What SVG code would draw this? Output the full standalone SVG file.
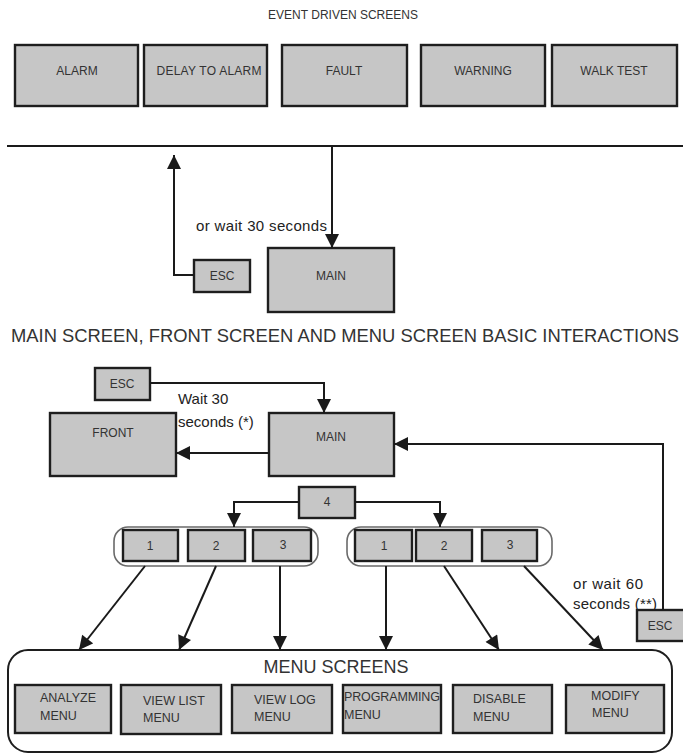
<svg xmlns="http://www.w3.org/2000/svg" width="683" height="754" viewBox="0 0 683 754">
  <defs>
    <marker id="arrow" viewBox="0 0 10 10" refX="10" refY="5" markerWidth="7.5" markerHeight="7" markerUnits="strokeWidth" orient="auto">
      <path d="M0,0 L10,5 L0,10 Z" fill="#1a1a1a"/>
    </marker>
    <style>
      .box { fill: #c6c6c6; stroke: #1e1e1e; stroke-width: 2.4; }
      .grp { fill: none; stroke: #6a6a6a; stroke-width: 1.6; }
      .frame { fill: none; stroke: #1e1e1e; stroke-width: 2; }
      .lbl { font-family: "Liberation Sans", Arial, sans-serif; fill: #333; font-size: 12px; text-anchor: middle; }
      .lbl2 { font-family: "Liberation Sans", Arial, sans-serif; fill: #333; font-size: 12.5px; }
      .note { font-family: "Liberation Sans", Arial, sans-serif; fill: #222; font-size: 15px; }
      .title { font-family: "Liberation Sans", Arial, sans-serif; fill: #333; font-size: 18px; text-anchor: middle; }
      .wire { fill: none; stroke: #1a1a1a; stroke-width: 2; }
    </style>
  </defs>

  <!-- Event driven screens -->
  <text class="lbl" x="343" y="19" font-size="11.5">EVENT DRIVEN SCREENS</text>
  <g id="alarm"><rect class="box" x="15" y="45" width="123" height="61"/><text class="lbl" x="77" y="75">ALARM</text></g>
  <g id="delay"><rect class="box" x="144" y="45" width="123" height="61"/><text class="lbl" x="209" y="75" textLength="105">DELAY TO ALARM</text></g>
  <g id="fault"><rect class="box" x="282" y="45" width="125" height="61"/><text class="lbl" x="344" y="75">FAULT</text></g>
  <g id="warning"><rect class="box" x="421" y="45" width="124" height="61"/><text class="lbl" x="483" y="75">WARNING</text></g>
  <g id="walktest"><rect class="box" x="552" y="45" width="125" height="61"/><text class="lbl" x="614" y="75">WALK TEST</text></g>

  <g id="main-top"><rect class="box" x="268" y="248" width="126" height="64"/><text class="lbl" x="331" y="280">MAIN</text></g>
  <g id="esc-top"><rect class="box" x="194" y="260" width="56" height="32"/><text class="lbl" x="222" y="280">ESC</text></g>
  <text class="note" x="196" y="231" textLength="131">or wait 30 seconds</text>

  <text class="title" x="345" y="342" textLength="668" lengthAdjust="spacingAndGlyphs">MAIN SCREEN, FRONT SCREEN AND MENU SCREEN BASIC INTERACTIONS</text>

  <!-- Main / front / menu -->
  <g id="esc-front"><rect class="box" x="95" y="368" width="55" height="32"/><text class="lbl" x="122" y="388">ESC</text></g>
  <text class="note" x="178" y="404" font-size="16">Wait 30</text>
  <text class="note" x="178" y="427" font-size="16">seconds (*)</text>
  <g id="front"><rect class="box" x="50" y="413" width="126" height="63"/><text class="lbl" x="113" y="437">FRONT</text></g>
  <g id="main"><rect class="box" x="269" y="413" width="125" height="63"/><text class="lbl" x="331" y="441">MAIN</text></g>
  <g id="key4"><rect class="box" x="299" y="487" width="56" height="31"/><text class="lbl" x="327" y="506">4</text></g>

  <g id="keys-left">
    <rect class="grp" x="114" y="527" width="204" height="39" rx="14"/>
    <rect class="box" x="123" y="530" width="55" height="31"/><text class="lbl" x="150" y="550">1</text>
    <rect class="box" x="188" y="530" width="57" height="31"/><text class="lbl" x="216" y="550">2</text>
    <rect class="box" x="253" y="530" width="58" height="31"/><text class="lbl" x="283" y="549">3</text>
  </g>
  <g id="keys-right">
    <rect class="grp" x="347" y="527" width="205" height="39" rx="14"/>
    <rect class="box" x="355" y="530" width="57" height="31"/><text class="lbl" x="384" y="550">1</text>
    <rect class="box" x="416" y="530" width="56" height="31"/><text class="lbl" x="444" y="550">2</text>
    <rect class="box" x="482" y="530" width="55" height="31"/><text class="lbl" x="510" y="549">3</text>
  </g>

  <text class="note" x="573" y="589" textLength="70">or wait 60</text>
  <text class="note" x="573" y="609" textLength="84">seconds (**)</text>
  <g id="esc-menu"><rect class="box" x="637" y="610" width="48" height="31"/><text class="lbl" x="660" y="630">ESC</text></g>

  <!-- Menu screens -->
  <g id="menu-screens">
    <rect class="frame" x="8" y="650" width="664" height="102" rx="20"/>
    <text class="title" x="336" y="673" font-size="15">MENU SCREENS</text>
  </g>
  <g id="analyze"><rect class="box" x="15" y="685" width="96" height="48"/><text class="lbl2" x="40" y="702">ANALYZE</text><text class="lbl2" x="40" y="720">MENU</text></g>
  <g id="viewlist"><rect class="box" x="121" y="685" width="100" height="49" stroke-width="3.2"/><text class="lbl2" x="143" y="705">VIEW LIST</text><text class="lbl2" x="143" y="722">MENU</text></g>
  <g id="viewlog"><rect class="box" x="232" y="685" width="100" height="48"/><text class="lbl2" x="254" y="704">VIEW LOG</text><text class="lbl2" x="254" y="721">MENU</text></g>
  <g id="programming"><rect class="box" x="343" y="685" width="98" height="48"/><text class="lbl2" x="344" y="701" textLength="96">PROGRAMMING</text><text class="lbl2" x="344" y="719">MENU</text></g>
  <g id="disable"><rect class="box" x="453" y="685" width="99" height="48"/><text class="lbl2" x="473" y="703">DISABLE</text><text class="lbl2" x="473" y="721">MENU</text></g>
  <g id="modify"><rect class="box" x="566" y="685" width="98" height="48"/><text class="lbl2" x="591" y="700">MODIFY</text><text class="lbl2" x="592" y="717">MENU</text></g>

  <!-- Connectors -->
  <g id="connectors">
    <line class="wire" x1="7" y1="146" x2="683" y2="146" stroke-width="2.5"/>
    <path class="wire" d="M332,146 V248" marker-end="url(#arrow)"/>
    <path class="wire" d="M194,275 H174 V155" marker-end="url(#arrow)"/>
    <path class="wire" d="M150,383 H324 V413" marker-end="url(#arrow)"/>
    <path class="wire" d="M269,453 H176" marker-end="url(#arrow)"/>
    <path class="wire" d="M663,610 V444 H394" marker-end="url(#arrow)"/>
    <path class="wire" d="M299,502 H234 V527" marker-end="url(#arrow)"/>
    <path class="wire" d="M355,502 H440 V527" marker-end="url(#arrow)"/>
    <path class="wire" d="M145,566 L79,650" marker-end="url(#arrow)"/>
    <path class="wire" d="M216,566 L179,650" marker-end="url(#arrow)"/>
    <path class="wire" d="M280,566 V650" marker-end="url(#arrow)"/>
    <path class="wire" d="M386,566 V650" marker-end="url(#arrow)"/>
    <path class="wire" d="M444,566 L499,650" marker-end="url(#arrow)"/>
    <path class="wire" d="M524,566 L603,650" marker-end="url(#arrow)"/>
  </g>
</svg>
